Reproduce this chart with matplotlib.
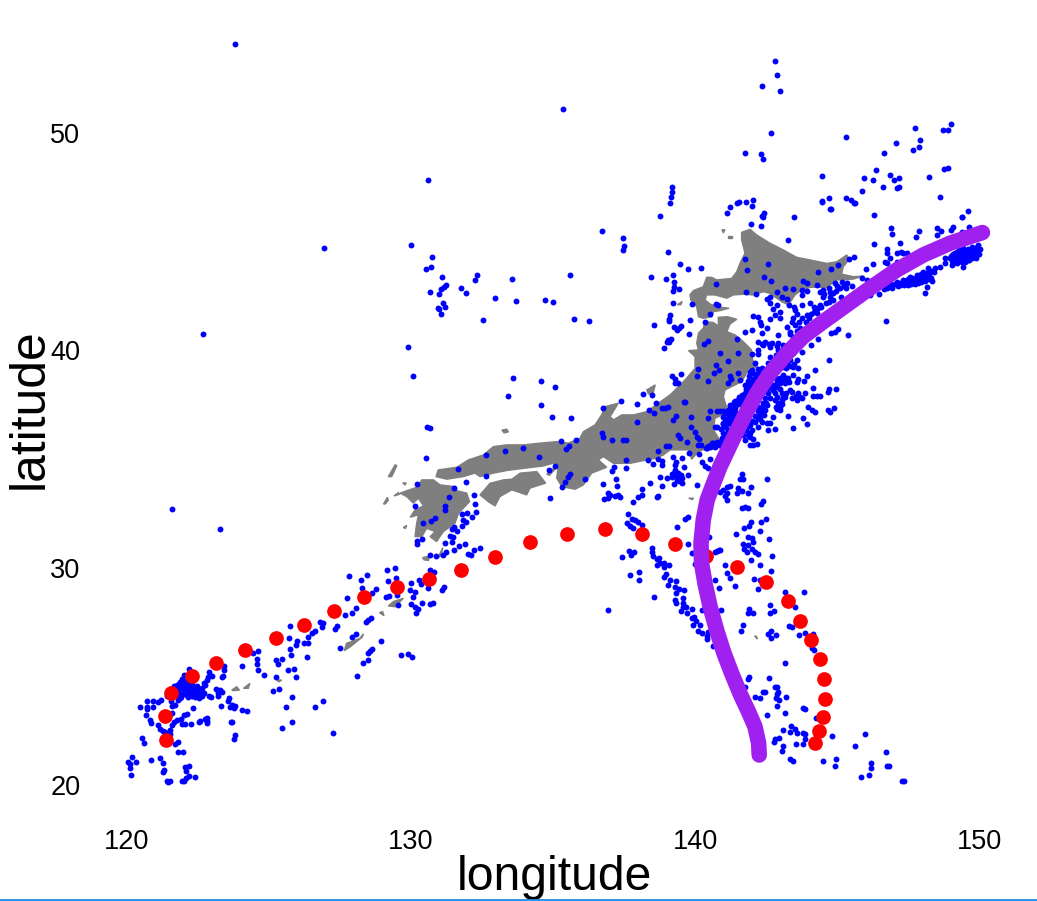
import matplotlib
matplotlib.use("Agg")
import matplotlib.pyplot as plt
from matplotlib.lines import Line2D
from matplotlib.patches import Polygon

plt.rcParams['font.family'] = ['Liberation Sans', 'DejaVu Sans']

# Coastlines as (longitude, latitude) rings
hokkaido = [(141.64,45.43),(141.94,45.57),(142.17,45.31),(142.64,44.93),(143.11,44.62),(143.58,44.28),(144.05,44.16),(144.64,44.0),
    (145.0,44.08),(145.34,44.39),(145.43,44.19),(145.22,43.85),(145.16,43.51),(145.57,43.39),(145.93,43.42),(145.57,43.28),
    (145.28,43.24),(144.99,43.24),(144.64,42.9),(144.28,42.9),(144.05,42.9),(143.76,42.78),(143.52,42.55),(143.29,42.09),
    (143.05,42.24),(142.64,42.62),(142.41,42.7),(142.05,42.55),(141.7,42.58),(141.35,42.55),(141.12,42.4),(140.7,42.55),
    (140.41,42.55),(140.35,42.32),(140.53,42.13),(140.88,41.98),(141.2,41.94),(140.88,41.83),(140.65,41.78),(140.59,41.55),
    (140.29,41.47),(140.12,41.55),(140.06,42.0),(139.85,42.32),(139.82,42.55),(139.94,42.75),(140.29,42.93),(140.41,43.36),
    (140.59,43.36),(140.76,43.24),(141.29,43.31),(141.47,43.62),(141.58,44.0),(141.76,44.47),(141.64,45.08)]
honshu = [(140.35,41.32),(140.65,41.28),(140.82,41.12),(140.82,41.52),(141.14,41.55),(141.47,41.43),(141.23,41.21),(141.12,40.86),
    (141.41,40.71),(141.7,40.4),(141.99,40.02),(142.03,39.56),(142.2,39.25),(141.88,39.1),(141.64,38.56),(141.06,38.18),
    (141.0,37.87),(141.12,37.33),(141.06,37.1),(140.7,36.87),(140.65,36.34),(140.88,35.85),(140.41,35.49),(140.12,35.34),
    (139.88,34.99),(139.77,35.42),(139.53,35.42),(139.12,35.42),(138.89,35.19),(138.65,35.04),(138.3,34.96),(137.71,34.8),
    (137.13,34.8),(136.77,35.11),(136.6,34.96),(136.89,34.62),(136.36,34.35),(136.07,33.81),(135.78,33.61),(135.31,33.73),
    (135.13,34.12),(135.19,34.73),(135.01,34.81),(134.66,34.68),(133.96,34.57),(133.37,34.47),(132.9,34.35),(132.43,34.19),
    (132.25,34.35),(131.84,34.19),(131.26,34.07),(130.88,34.19),(130.96,34.5),(131.61,34.62),(132.02,34.96),(132.55,35.19),
    (132.9,35.57),(133.37,35.65),(133.96,35.65),(134.54,35.73),(135.13,35.8),(135.54,35.73),(135.95,35.96),(136.07,36.26),
    (136.48,36.57),(136.71,37.03),(136.83,37.41),(137.3,37.57),(137.01,36.95),(137.13,36.8),(137.42,37.03),(137.83,37.03),
    (138.3,37.18),(138.71,37.57),(139.12,37.95),(139.24,38.1),(139.47,38.41),(139.65,38.64),(140.0,39.17),(140.0,39.71),
    (139.77,39.99),(140.12,40.02),(140.06,40.33),(140.12,40.79),(140.29,41.02)]
kyushu = [(129.61,33.43),(130.2,33.7),(130.38,34.04),(130.79,34.04),(131.02,33.81),(131.55,33.73),(131.49,33.58),(131.96,33.43),
    (132.06,33.04),(131.67,32.5),(131.55,32.05),(131.14,31.66),(130.9,31.2),(130.67,31.43),(130.85,31.66),(130.55,31.81),
    (130.38,31.43),(130.14,31.43),(130.2,32.05),(130.26,32.43),(129.97,32.32),(130.14,32.66),(130.44,32.84),(130.26,33.2),
    (130.08,32.97),(129.85,33.27)]
shikoku = [(132.43,33.35),(132.78,33.88),(133.25,34.04),(133.55,34.07),(133.84,34.35),(134.43,34.42),(134.74,33.89),(134.19,33.66),
    (134.07,33.35),(133.55,33.58),(133.13,33.27),(132.96,32.84),(132.72,33.04)]
small_islands = [
    [(134.78,34.3),(135.04,34.6),(135.1,34.57),(134.87,34.25)],
    [(133.2,36.33),(133.37,36.37),(133.43,36.25),(133.28,36.2)],
    [(129.2,34.19),(129.44,34.73),(129.5,34.7),(129.32,34.19)],
    [(129.71,33.9),(129.83,33.9),(129.79,33.8)],
    [(129.03,32.93),(129.17,33.24),(129.2,33.1),(129.09,32.93)],
    [(129.4,33.3),(129.55,33.45),(129.6,33.38)],
    [(129.73,31.85),(129.85,31.95),(129.8,31.8)],
    [(130.96,30.49),(131.12,30.92),(131.06,30.55)],
    [(130.41,30.46),(130.67,30.54),(130.61,30.33),(130.46,30.36)],
    [(138.3,38.18),(138.6,38.41),(138.53,38.06),(138.36,37.99)],
    [(140.95,45.55),(141.05,45.55),(141.0,45.4)],
    [(141.15,45.28),(141.3,45.28),(141.3,45.18),(141.15,45.18)],
    [(139.38,42.1),(139.55,42.25),(139.5,42.1)],
    [(127.65,26.18),(127.73,26.52),(128.2,26.75),(128.32,26.95),(128.28,26.8),(127.85,26.35)],
    [(129.2,28.24),(129.38,28.44),(129.73,28.59),(129.44,28.2)],
    [(128.89,27.93),(129.0,27.98),(129.05,27.79)],
    [(123.69,24.37),(123.86,24.52),(123.96,24.37),(123.74,24.34)],
    [(124.1,24.45),(124.33,24.68),(124.27,24.45)],
    [(125.27,24.83),(125.45,24.83),(125.35,24.75)],
    [(139.78,33.2),(139.95,33.2),(139.9,33.13)],
    [(142.1,26.85),(142.2,26.72),(142.15,26.85)],
]

# Earthquake epicentres, grouped by area
quakes_taiwan = [(120.13,20.45),(120.11,20.8),(120.05,21.07),(120.19,21.3),(120.31,21.05),(120.12,20.95),(120.83,21.15),(121.16,21.25),
    (121.25,21.0),(121.29,20.68),(121.28,20.6),(121.4,20.2),(121.5,20.2),(121.45,20.15),(121.93,20.2),(122.01,20.2),(122.08,20.3),
    (122.2,20.4),(122.4,20.35),(122.05,20.85),(122.17,20.88),(122.08,20.65),(121.81,21.5),(121.98,21.5),(121.7,21.9),(121.78,21.96),
    (120.52,22.15),(120.61,21.92),(120.44,23.6),(120.71,23.85),(120.72,23.6),(120.7,23.5),(120.93,23.85),(120.93,23.6),(121.1,23.8),
    (121.2,23.9),(120.68,23.2),(120.82,23.0),(120.85,22.85),(121.1,22.75),(121.15,22.6),(121.25,22.5),(121.35,22.45),(121.5,22.55),
    (121.5,22.35),(121.65,22.9),(121.75,23.0),(121.6,22.75),(121.9,23.05),(122.0,23.2),(122.1,23.25),(121.95,22.8),(122.05,22.8),
    (122.27,22.8),(122.55,22.9),(122.57,22.95),(122.73,23.05),(122.83,23.1),(122.8,22.85),(122.8,22.95),(122.34,23.53),(121.6,23.3),
    (121.6,23.65),(121.55,23.85),(121.42,24.1),(121.7,23.7),(121.8,23.9),(121.9,24.05),(121.5,24.4),(121.95,24.7),(121.95,24.9),
    (122.0,25.05),(122.2,25.35),(122.28,24.9),(122.1,24.6),(122.15,24.35),(122.3,24.2),(122.45,24.15),(122.6,24.2),(122.6,24.4),
    (122.45,24.55),(122.25,24.55),(122.35,24.35),(122.5,24.3),(122.3,24.45),(122.4,24.25),(122.65,24.45),(122.7,24.7),(122.8,24.85),
    (122.85,24.95),(122.9,25.2),(123.0,25.0),(122.75,24.6),(122.9,24.1),(122.95,24.05),(123.15,24.4),(123.2,24.25),(123.2,24.1),
    (123.3,23.65),(122.55,24.0),(122.65,24.1),(122.3,24.1),(122.1,24.15),(121.9,24.2),(121.85,24.0),(121.75,24.1),(121.7,24.3),
    (121.85,24.5),(121.65,24.55),(121.55,24.35),(121.8,24.35),(122.0,24.35),(122.15,24.5),(122.3,24.65),(123.58,24.0),(123.57,23.85),
    (123.7,23.7),(123.62,23.6),(123.75,23.55),(123.8,23.65),(124.06,23.45),(124.24,23.4),(123.68,22.9),(123.82,22.3),(123.75,22.1),
    (123.42,25.47),(123.42,25.28),(123.33,24.99),(123.39,25.02),(124.04,25.47),(121.59,32.69),(123.29,31.77),(123.27,24.38),(123.35,24.3),
    (121.8,24.6),(121.85,24.75),(121.95,24.55),(122.0,24.8),(122.05,24.4),(122.1,24.7),(122.2,24.2),(122.25,24.3),(122.35,24.2),(122.4,24.4),
    (122.45,24.25),(122.55,24.3),(122.6,24.1),(122.7,24.25),(122.05,24.2),(121.95,24.45),(121.8,24.2),(121.7,24.45),(121.75,24.6),(122.15,24.05),
    (122.5,24.1),(122.4,24.05)]
quakes_ryukyu = [(124.45,26.06),(124.62,26.18),(124.59,25.78),(124.57,25.55),(124.62,25.28),(124.84,25.05),(125.24,25.75),(125.45,25.78),
    (125.33,25.55),(125.26,24.99),(125.66,25.28),(125.89,25.32),(125.96,24.95),(125.79,25.97),(125.75,26.24),(125.72,26.75),(125.75,27.33),
    (126.32,25.88),(125.95,26.44),(126.0,26.61),(126.24,26.52),(126.39,26.52),(126.39,26.8),(126.5,26.98),(126.62,27.07),(126.8,27.49),
    (126.91,27.44),(126.88,27.25),(125.15,24.33),(125.36,24.4),(125.82,24.07),(125.61,23.58),(126.63,23.58),(126.91,23.85),(125.82,22.88),
    (125.47,22.61),(127.27,22.38),(123.67,22.88),(127.51,26.29),(127.38,27.32),(127.32,27.16),(127.69,27.81),(127.91,27.9),(128.06,28.13),
    (127.76,28.59),(127.83,29.6),(128.25,29.42),(128.46,29.65),(128.26,29.05),(128.64,28.85),(128.78,29.0),(129.17,29.88),(129.2,29.37),
    (129.44,29.97),(129.47,29.51),(129.52,28.74),(129.11,28.64),(129.24,28.68),(129.55,28.28),(127.93,26.8),(128.06,26.93),(128.5,27.6),
    (128.59,27.67),(128.4,27.48),(128.93,26.63),(128.64,26.26),(128.5,26.06),(128.56,26.18),(128.5,25.74),(128.32,25.6),(128.11,25.0),
    (129.66,25.97),(129.91,26.01),(130.05,25.88),(129.99,29.28),(129.97,28.97),(130.14,28.9),(130.08,28.67),(130.29,29.43),(130.34,29.25),
    (130.61,29.05),(129.99,28.33),(130.14,28.2),(130.18,27.9),(130.26,28.08),(130.38,28.36),(130.67,28.33),(130.79,28.39),(131.17,29.13),
    (131.1,28.97),(130.67,29.9),(130.82,29.8)]
quakes_west_japan = [(130.55,36.46),(130.67,36.42),(130.52,35.04),(130.22,33.84),(135.65,36.88),(131.67,34.53),(131.95,33.93),(132.65,34.21),
    (132.65,35.17),(133.32,35.36),(133.96,35.5),(134.52,35.08),(135.29,35.82),(135.82,35.86),(135.45,35.45),(135.58,35.6),(135.08,34.67),
    (134.87,34.48),(135.61,34.3),(135.54,34.16),(135.42,33.92),(135.33,33.7),(136.14,34.07),(134.91,33.2),(131.53,33.66),(131.34,33.24),
    (131.21,32.83),(131.21,32.64),(130.15,32.83),(130.86,32.27),(130.72,32.14),(130.41,32.05),(132.2,33.33),(132.27,32.92),(132.3,32.55),
    (132.16,32.32),(131.98,32.5),(131.79,32.46),(131.84,32.2),(131.94,32.12),(131.79,31.92),(131.52,31.89),(131.46,31.78),(131.63,31.68),
    (131.37,31.46),(131.49,31.43),(131.46,31.16),(131.21,31.13),(131.7,30.99),(131.91,31.08),(131.52,30.82),(132.23,30.8),(132.44,30.89),
    (132.0,30.62),(132.1,30.57),(131.23,30.71),(131.14,30.57),(130.68,30.57),(130.87,30.53),(130.4,31.31),(130.2,31.08),(130.22,31.25)]
quakes_central_japan = [(136.75,37.34),(137.38,37.69),(137.97,37.52),(138.18,37.98),(138.5,37.93),(138.63,37.57),(138.39,37.24),(138.57,37.1),
    (138.83,37.34),(139.06,37.41),(138.95,37.34),(139.63,37.61),(139.34,36.97),(139.24,36.78),(139.87,36.92),(137.94,36.69),(139.87,36.46),
    (140.0,36.23),(140.06,36.03),(140.15,35.91),(139.39,36.09),(139.48,35.96),(139.7,35.77),(140.12,35.63),(140.21,35.63),(140.39,35.5),
    (140.59,35.73),(140.76,35.8),(140.94,35.88),(141.12,36.03),(140.76,36.46),(141.0,36.65),(141.17,36.8),(140.79,37.2),(141.0,37.23),
    (140.53,37.2),(140.47,36.88),(136.74,36.19),(136.77,36.0),(137.09,35.86),(137.48,35.86),(137.57,35.86),(138.98,35.59),(139.1,35.6),
    (138.71,35.36),(139.8,35.27),(140.15,35.22),(138.36,34.96),(138.53,34.76),(138.71,34.99),(138.85,34.93),(138.83,34.73),(139.24,35.11),
    (139.55,35.04),(139.32,34.88),(139.3,34.73),(139.6,34.62),(139.3,34.5),(139.18,34.19),(139.36,34.31),(139.41,34.12),(139.53,34.12),
    (139.53,33.89),(139.27,33.84),(139.74,34.27),(139.03,34.12),(138.85,33.75),(138.75,34.16),(140.08,33.79),(138.43,33.89),(137.58,34.94),
    (137.58,34.58),(137.16,34.62),(137.06,34.44),(137.23,34.07),(137.27,33.75),(136.77,33.84),(138.15,33.61),(138.15,33.33),(138.0,33.24),
    (137.83,33.01),(138.65,33.24),(138.71,33.29),(140.24,34.85),(140.53,34.99),(140.35,34.68),(140.47,34.58),(136.95,33.43),(137.0,33.35),
    (136.8,33.15),(136.95,33.2),(137.18,33.3),(137.36,33.27),(137.3,33.35),(139.65,32.23),(139.77,32.34),(139.38,31.86),(139.77,31.08),
    (139.91,30.66),(139.2,34.3),(139.3,34.2),(139.45,34.2),(139.4,34.35),(139.25,34.35),(139.35,34.05),(139.45,34.0),(139.5,34.25),
    (140.5,35.6),(140.6,35.6),(140.7,35.55),(140.45,35.6),(140.65,35.75),(140.85,35.65)]
quakes_izu_bonin = [(137.65,32.46),(137.77,32.23),(137.89,32.2),(138.0,32.12),(138.15,31.95),(137.62,32.04),(137.71,31.92),(137.83,31.81),
    (138.47,30.89),(138.47,30.74),(138.53,30.54),(138.65,30.39),(138.74,30.43),(138.89,30.23),(138.65,30.11),(138.89,30.05),(139.08,30.11),
    (138.77,30.2),(137.69,30.77),(137.86,30.71),(137.76,30.57),(137.44,30.48),(137.72,29.65),(138.04,29.79),(138.04,29.42),(138.98,29.71),
    (138.92,29.56),(139.12,29.42),(139.06,29.19),(139.34,29.37),(139.3,29.13),(139.43,29.0),(139.34,28.82),(139.62,28.96),(138.57,28.64),
    (139.28,28.5),(139.56,28.59),(139.56,28.39),(139.33,28.36),(139.68,28.2),(139.5,27.99),(139.56,28.18),(139.73,27.9),(139.91,28.08),
    (139.88,27.67),(139.98,27.75),(140.03,27.55),(139.94,27.35),(140.18,27.36),(140.09,27.07),(140.23,26.98),(140.41,26.86),(140.41,26.7),
    (140.47,27.05),(140.65,26.4),(136.95,28.04),(140.0,30.16),(140.23,28.05),(140.49,31.43),(140.76,30.77),(140.88,30.82),
    (141.64,34.31),(141.7,34.07),(141.58,34.1),(141.12,33.73),(141.23,33.76),(141.0,33.58),(140.88,33.5),(141.12,33.42),(141.06,33.3),
    (141.12,33.12),(141.47,33.42),(141.64,33.54),(141.88,33.42),(141.98,33.7),(141.52,33.65),(142.41,33.09),(142.34,32.92),(141.66,32.73),
    (141.77,32.81),(141.88,32.73),(142.55,34.07),(142.5,32.23),(142.34,32.09),(141.98,32.09),(141.91,31.92),(141.74,31.81),(142.27,31.67),
    (141.46,31.54),(141.88,31.43),(141.99,31.35),(142.03,31.2),(142.62,31.3),(141.7,31.09),(141.88,31.04),(141.72,30.85),(141.82,30.74),
    (141.99,30.85),(142.11,30.74),(142.23,30.62),(142.72,30.52),(141.98,30.34),(142.3,30.11),(142.69,29.83),(142.09,29.47),(142.29,29.44),
    (142.23,29.02),(141.39,29.14),(141.24,29.51),(141.14,29.74),(141.07,30.11),(140.7,30.74),(140.86,30.81),(140.72,29.42),(140.86,29.05)]
quakes_mariana = [(143.18,28.87),(143.85,28.87),(143.53,28.18),(142.65,28.27),(142.64,27.93),(142.77,28.0),(141.91,28.08),(141.88,27.9),
    (142.05,27.9),(140.93,28.04),(141.7,27.34),(141.63,27.07),(142.56,26.93),(142.69,27.09),(142.84,26.89),(142.69,26.75),(143.32,27.32),
    (143.4,27.26),(143.66,26.89),(143.86,26.98),(144.17,26.95),(144.11,26.29),(144.18,26.2),(143.18,25.6),(141.91,24.96),(141.87,24.86),
    (141.77,24.5),(142.62,24.91),(142.82,24.5),(142.88,24.5),(142.38,24.27),(142.46,24.27),(142.93,24.3),(142.88,24.19),(142.12,24.04),
    (142.27,23.99),(142.85,24.0),(142.95,23.91),(143.22,24.04),(142.9,23.62),(142.55,23.21),(143.18,23.3),(143.81,23.53),(143.88,23.48),
    (144.26,23.1),(143.08,22.52),(143.37,22.7),(143.53,22.58),(143.36,22.46),(143.6,22.38),(143.81,22.38),(143.88,22.33),(143.86,22.1),
    (143.81,21.87),(143.57,21.87),(142.95,22.15),(142.8,22.1),(142.79,22.0),(143.1,21.8),(143.06,21.58),(143.36,21.18),(143.46,21.09),
    (144.52,21.09),(144.98,21.18),(144.94,20.86),(144.84,22.24),(146.0,22.33),(145.65,21.78),(146.74,21.5),(146.21,21.0),(146.21,20.8),
    (146.75,20.86),(146.82,20.86),(145.86,20.35),(146.14,20.45),(147.28,20.17),(147.35,20.17)]
quakes_tohoku = [(140.7,36.46),(141.06,36.46),(141.23,36.64),(141.12,36.8),(141.0,36.95),(141.17,37.1),(141.29,37.26),(141.06,37.1),(140.88,37.23),
    (141.23,37.49),(141.53,37.72),(141.7,37.84),(141.82,37.87),(141.58,37.53),(141.41,37.33),(141.41,36.95),(141.29,36.72),(141.17,36.34),
    (141.35,36.26),(141.12,36.11),(140.94,35.95),(140.88,35.8),(140.7,35.65),(140.53,35.57),(140.41,35.49),(141.29,36.49),(141.94,36.18),
    (141.76,35.88),(141.94,35.65),(142.17,35.68),(142.05,35.65),(141.99,36.34),(142.11,36.72),(142.35,36.72),(142.23,36.49),(142.58,36.34),
    (142.83,36.37),(142.64,36.67),(142.52,36.64),(142.43,37.03),(142.73,36.95),(142.88,37.29),(143.0,37.25),(143.29,37.0),(143.46,36.41),
    (143.81,36.87),(143.96,36.6),(143.99,37.38),(144.11,37.25),(144.23,37.18),(144.67,37.25),(144.75,37.18),(144.89,37.33),(142.05,37.56),
    (142.23,37.72),(142.41,37.56),(142.52,37.49),(142.47,37.26),(142.29,37.03),(142.82,37.72),(142.93,37.56),(143.05,37.72),(143.17,37.87),
    (142.99,37.41),(143.35,38.18),(143.05,38.02),(143.4,37.79),(143.58,37.72),(143.76,37.79),(143.87,38.05),(143.64,38.05),(144.17,37.92),
    (144.28,37.92),(144.4,37.92),(144.67,38.1),(144.73,38.21),(144.98,38.21),(144.17,38.25),(143.85,38.58),(143.58,38.56),(143.62,38.68),
    (143.96,38.81),(144.24,39.08),(144.73,39.54),(143.46,38.87),(143.29,38.71),(143.11,38.87),(142.99,38.71),(143.17,38.48),(142.88,38.56),
    (142.76,38.18),(142.58,38.02),(142.47,38.25),(142.29,38.33),(142.11,38.1),(141.94,38.33),(141.76,38.41),(141.58,38.64),(141.99,38.94),
    (142.17,38.79),(142.35,39.17),(141.94,39.02),(142.11,39.4),(141.99,39.83),(142.2,39.83),(142.23,40.02),(142.64,39.71),(142.58,39.4),
    (142.76,39.56),(142.93,40.02),(143.11,40.25),(143.4,40.4),(142.23,40.4),(142.47,40.4),(142.7,40.33),(142.93,40.36),(142.41,40.25),
    (142.64,40.17),(143.46,39.86),(143.76,39.94),(143.23,39.4),(143.46,39.25),(143.64,39.17),(143.35,39.56),(143.58,39.56),(144.1,40.23),
    (144.34,40.51),(144.78,40.79),(144.93,40.86),(145.05,41.0),(145.4,40.69),(146.74,41.34),(141.76,40.83),(142.02,40.92),(142.35,40.79),
    (142.55,41.02),(142.31,41.17),(142.05,41.58),(142.2,41.55),(142.29,41.32),(142.64,41.43),(142.82,41.63),(142.99,41.47),(142.93,40.71),
    (143.23,41.09),(143.35,40.86),(143.52,41.17),(143.44,40.6),(142.64,42.17),(142.88,42.09),(142.99,41.78),(142.76,41.89),(142.52,42.36),
    (142.64,42.47),(142.88,42.7),(143.05,42.47),(143.23,42.35),(143.17,42.85),(143.46,42.82),(143.76,42.78),(143.76,42.55),(143.81,43.19),
    (143.96,43.09),(144.28,43.01),(143.52,41.86),(143.46,41.47),(143.76,42.09),(143.93,41.63),(144.05,42.2),(144.19,41.78),(144.34,41.94),
    (144.52,42.78),(144.73,42.85),(144.52,42.47),(144.75,42.47),(144.87,42.62),(144.93,43.09),(145.11,42.85),(145.16,43.16),(145.34,43.09),
    (145.52,42.96),(145.13,42.44),(144.4,42.09),(144.7,42.24)]
quakes_tohoku_dense = [(140.85,35.7),(140.95,35.8),(140.6,35.6),(140.75,35.72),(141.05,36.0),(141.0,36.2),(141.15,36.2),(141.25,36.15),(140.9,36.4),
    (141.1,36.55),(141.0,36.6),(141.2,36.85),(141.05,36.85),(141.3,36.95),(141.2,37.0),(141.3,37.1),(141.4,37.15),(141.15,37.25),(141.35,37.4),
    (141.45,37.5),(141.25,37.35),(141.5,37.6),(141.6,37.7),(141.4,37.65),(141.7,37.7),(141.55,37.85),(141.65,37.95),(141.75,38.05),(141.85,38.05),
    (141.8,38.2),(141.95,38.2),(142.05,38.25),(141.9,38.4),(142.0,38.5),(142.15,38.45),(141.85,38.6),(142.05,38.7),(141.9,38.8),(142.1,38.9),
    (142.25,38.95),(142.0,39.1),(142.2,39.15),(142.45,39.1),(141.85,36.1),(141.95,36.0),(142.05,35.9),(141.7,36.1),(141.8,36.35),(141.85,36.5),
    (141.95,36.55),(142.0,36.75),(142.2,36.9),(142.3,36.85),(142.1,37.0),(142.2,37.2),(142.35,37.15),(142.2,37.4),(142.35,37.4),(142.1,37.65),
    (142.5,37.6),(142.45,37.8),(142.3,37.9),(142.65,37.8),(142.55,38.15),(142.4,38.1),(142.65,38.3),(142.75,38.4),(142.9,38.3),(143.0,38.2),
    (142.8,38.05),(143.0,38.5),(143.1,38.6),(142.85,38.75),(143.2,38.75),(143.3,38.55),(143.4,38.1),(143.55,37.9),(143.7,37.85),(143.2,38.05),
    (143.1,37.85),(142.9,37.85),(142.85,37.4),(143.05,37.55),(142.9,39.1),(143.05,39.25),(143.2,39.2),(143.0,39.5),(142.85,39.6),(142.7,39.3),
    (143.1,39.7),(142.85,39.8),(143.35,39.3),(143.5,39.35),(143.1,40.05),(142.9,40.2),(142.6,40.3),(142.35,40.3),(143.2,40.15),(143.35,40.0),
    (143.55,40.15),(143.65,40.3),(143.35,40.75),(143.6,40.9),(143.7,41.05),(143.65,41.3),(143.4,41.3),(143.9,41.3),(143.75,41.5),(144.0,41.5),
    (143.6,41.65),(144.1,41.65),(144.3,41.7),(144.45,42.0),(144.6,42.2),(144.85,42.3),(144.2,42.0),(144.55,42.6),(144.75,42.7),(144.95,42.75),
    (145.25,42.95),(145.3,42.85),(145.0,42.95),(144.4,42.7),(143.95,42.75),(143.3,42.1),(143.5,42.0)]
quakes_kuril = [(145.87,43.32),(146.04,43.24),(146.16,42.55),(146.48,42.59),(146.75,42.86),(146.93,42.86),(146.87,43.09),(147.1,43.16),(147.34,43.24),
    (147.57,43.39),(147.81,43.47),(148.04,43.62),(148.22,43.77),(147.22,43.01),(147.45,43.09),(147.69,43.16),(147.92,43.32),(148.16,43.39),
    (148.33,43.19),(147.86,43.09),(147.63,43.32),(148.15,42.9),(148.11,42.63),(148.45,43.77),(148.63,43.85),(148.8,44.0),(148.8,44.24),
    (149.04,43.93),(149.21,44.0),(149.45,43.85),(149.62,44.16),(149.74,44.24),(149.86,44.39),(150.03,44.68),(149.98,44.85),(149.08,44.31),
    (149.33,44.39),(149.57,44.54),(149.74,44.62),(149.45,44.7),(149.21,44.54),(149.92,44.54),(149.39,44.08),(148.98,44.24),(149.66,44.39),
    (149.16,44.16),(149.51,44.31),(146.75,44.0),(147.1,44.08),(147.34,44.47),(147.1,44.47),(147.48,44.47),(147.24,44.51),(149.62,46.43),
    (149.41,46.12),(149.07,45.69),(149.01,45.55),(149.66,45.66),(149.41,45.43),(148.53,45.62),(148.65,45.51),(148.53,45.29),(147.9,45.48),
    (147.79,45.2),(146.91,45.62),(146.95,45.34),(146.31,46.21),(147.2,44.93),(146.31,44.88),(146.77,44.65),(146.77,44.47),(146.88,44.24),
    (146.7,44.05),(146.28,43.96),(146.03,43.73),(145.61,44.28),(145.43,44.19),(145.05,43.91),(144.77,43.73),(144.34,43.59),(142.58,43.96),
    (141.76,44.19),(141.84,43.68),(142.44,43.36),(142.69,43.18),(141.81,42.67),(142.16,42.58),(143.29,45.06),(143.5,46.12),(141.98,45.8),
    (142.34,45.71),(142.44,46.31),(142.38,46.15),(144.77,46.49),(144.48,46.84),(145.61,46.77),(145.5,46.91),
    (146.95,43.0),(147.05,43.05),(147.15,42.95),(147.25,43.12),(147.35,43.0),(147.4,43.18),(147.5,43.0),(147.55,43.2),(147.6,43.05),(147.7,43.28),
    (147.75,43.05),(147.8,43.2),(147.85,43.35),(147.95,43.15),(148.0,43.3),(148.05,43.45),(148.1,43.2),(148.15,43.55),(148.2,43.3),(148.25,43.5),
    (148.3,43.65),(147.95,43.5),(147.5,43.3),(147.3,43.1),(148.3,43.35),(146.8,42.95),(146.65,42.8),(148.4,43.6),
    (149.0,44.35),(149.05,44.1),(149.1,44.45),(149.15,44.3),(149.2,44.05),(149.25,44.4),(149.3,44.2),(149.3,44.6),(149.35,44.1),(149.4,44.3),
    (149.4,44.5),(149.45,44.2),(149.5,44.45),(149.5,44.05),(149.55,44.25),(149.6,44.65),(149.6,44.4),(149.65,44.15),(149.7,44.5),(149.7,44.3),
    (149.75,44.75),(149.8,44.4),(149.8,44.55),(149.85,44.7),(149.9,44.25),(149.95,44.65),(150.0,44.45),(149.15,44.5),(149.25,44.25),(149.45,44.6)]
quakes_sea_of_japan = [(130.01,44.83),(130.75,44.28),(130.72,43.82),(130.54,43.73),(131.1,43.36),(131.24,42.99),(131.17,42.9),(131.04,42.81),
    (130.68,42.67),(131.0,42.58),(131.14,42.17),(131.21,41.98),(130.96,41.94),(131.0,41.89),(131.07,41.66),(131.77,42.86),(131.95,42.63),
    (132.27,43.22),(132.34,43.45),(133.57,43.27),(132.97,42.4),(133.71,42.26),(132.55,41.38),(134.7,42.3),(135.01,42.21),(135.61,43.45),
    (135.75,41.43),(136.28,41.34),(136.74,45.48),(137.48,45.16),(137.51,44.79),(137.48,44.6),(129.91,40.14),(130.08,38.81),(133.6,38.71),
    (134.59,38.58),(135.08,38.3),(133.43,37.89),(134.59,37.47),(134.98,36.92),(139.06,44.51),(139.48,43.96),(139.77,43.73),(140.22,43.78),
    (138.46,43.36),(138.99,43.27),(139.24,43.45),(139.27,43.13),(139.45,42.81),(139.24,42.72),(139.27,42.9),(140.75,43.04),(139.24,42.17),
    (139.91,42.12),(140.73,42.12),(140.8,42.07),(140.54,41.66),(139.1,41.43),(139.13,41.61),(139.1,41.34),(138.57,41.15),(139.84,41.38),
    (140.36,41.29),(139.27,41.06),(139.38,40.92),(139.45,41.01),(139.52,41.11),(139.8,40.74),(139.17,40.51),(139.06,40.46),(139.0,40.37),
    (139.1,40.37),(138.92,40.1),(140.33,40.28),(140.47,40.42),(141.49,40.51),(140.89,39.87),(141.53,39.87),(141.17,39.5),(140.75,39.31),
    (140.12,39.13),(140.08,38.81),(139.52,38.9),(139.2,38.81),(139.3,38.67),(139.3,38.48),(139.41,38.48),(140.86,39.08),(140.68,38.96),
    (140.47,38.58),(141.24,38.81),(141.28,38.67),(141.17,38.48),(141.53,38.94),(139.62,37.61),(141.23,37.46),(141.38,37.64)]
quakes_north = [(123.8,54.1),(135.35,51.1),(130.6,47.84),(126.94,44.71),(122.68,40.75),(139.19,47.52),(139.19,47.29),(139.15,47.06),(139.12,46.78),
    (138.77,46.19),(142.83,53.3),(142.9,52.66),(142.37,52.15),(143.0,51.92),(142.69,49.99),(141.77,49.07),(142.34,49.03),(142.41,48.8),(145.33,49.81),
    (147.76,50.22),(149.03,50.4),(148.74,50.13),(148.92,50.13),(147.93,49.67),(147.9,49.35),(147.69,49.21),(147.09,49.53),(146.67,49.07),
    (146.38,48.29),(145.96,47.92),(146.28,47.83),(146.88,48.06),(147.02,47.83),(147.19,47.92),(146.63,47.51),(147.12,47.46),(147.19,47.51),
    (145.89,47.32),(148.78,48.33),(148.92,48.38),(148.25,47.97),(148.64,47.05),(144.48,48.01),(144.48,46.86),(144.73,47.0),(144.76,46.49),
    (145.33,47.0),(145.65,46.77),(149.41,46.12),(141.23,46.6),(141.49,46.77),(141.56,46.81),(141.81,46.82),(142.05,46.91),(142.02,46.63),
    (142.37,46.17),(141.12,46.31)]

# Typhoon tracks
red_track_lon = [144.21,144.35,144.5,144.58,144.53,144.4,144.07,143.69,143.26,142.49,141.47,140.39,139.28,138.12,136.83,135.49,134.19,132.95,
    131.75,130.62,129.5,128.33,127.29,126.22,125.24,124.14,123.12,122.28,121.54,121.34,121.36]
red_track_lat = [21.92,22.5,23.13,23.97,24.88,25.8,26.69,27.55,28.47,29.34,30.03,30.55,31.09,31.57,31.8,31.57,31.16,30.5,
    29.9,29.5,29.13,28.67,28.0,27.36,26.76,26.2,25.63,25.02,24.25,23.18,22.09]
purple_track_lon = [142.26,142.24,142.11,141.88,141.58,141.29,141.02,140.76,140.53,140.35,140.23,140.21,140.29,140.43,140.65,140.88,141.35,141.76,
    142.17,142.64,143.23,143.81,144.52,145.34,146.16,147.1,148.04,148.98,149.68,150.12]
purple_track_lat = [21.38,21.92,22.69,23.38,24.22,25.14,26.06,27.13,28.21,29.28,30.2,31.12,32.2,33.12,33.88,34.65,35.95,37.03,
    38.02,38.94,39.86,40.63,41.32,42.09,42.86,43.7,44.39,44.93,45.23,45.42]

x_ticks = [120, 130, 140, 150]
y_ticks = [20, 30, 40, 50]

fig = plt.figure(figsize=(10.37, 9.01), dpi=100)
ax = fig.add_axes([90 / 1037, 86 / 901, 920 / 1037, 785 / 901])
ax.set_xlim(118.697, 151.09)
ax.set_ylim(18.62, 54.74)

for ring in [hokkaido, honshu, kyushu, shikoku] + small_islands:
    ax.add_patch(Polygon(ring, closed=True, facecolor='#7F7F7F', edgecolor='#7F7F7F', linewidth=1.0, zorder=1))

all_quakes = (quakes_taiwan + quakes_ryukyu + quakes_west_japan + quakes_central_japan + quakes_izu_bonin
              + quakes_mariana + quakes_tohoku + quakes_tohoku_dense + quakes_kuril + quakes_sea_of_japan + quakes_north)
ax.scatter([p[0] for p in all_quakes], [p[1] for p in all_quakes], s=18, c='#0000FF', linewidths=0, zorder=2)
ax.scatter(red_track_lon, red_track_lat, s=112, c='#FF0000', linewidths=0, zorder=3)
ax.plot(purple_track_lon, purple_track_lat, color='#A020F0', linewidth=11.2, solid_capstyle='round',
        solid_joinstyle='round', zorder=4)

for side in ax.spines.values():
    side.set_visible(False)
ax.set_xticks(x_ticks)
ax.set_yticks(y_ticks)
ax.tick_params(axis='both', length=0, labelsize=19.5, colors='black')
ax.tick_params(axis='x', pad=10)
ax.tick_params(axis='y', pad=7)

ax.set_xlabel('longitude', fontsize=34.7, va='baseline')
ax.xaxis.set_label_coords(0.505, -0.0955)
ax.set_ylabel('latitude', fontsize=35.8, va='baseline', rotation_mode='anchor')
ax.yaxis.set_label_coords(-0.051, 0.518)

# Thin rule along the lower edge of the figure
fig.add_artist(Line2D([0, 1], [0.0013, 0.0013], color='#1E88E5', linewidth=1.3, transform=fig.transFigure))

fig.savefig('out.png', dpi=100, facecolor='white')
